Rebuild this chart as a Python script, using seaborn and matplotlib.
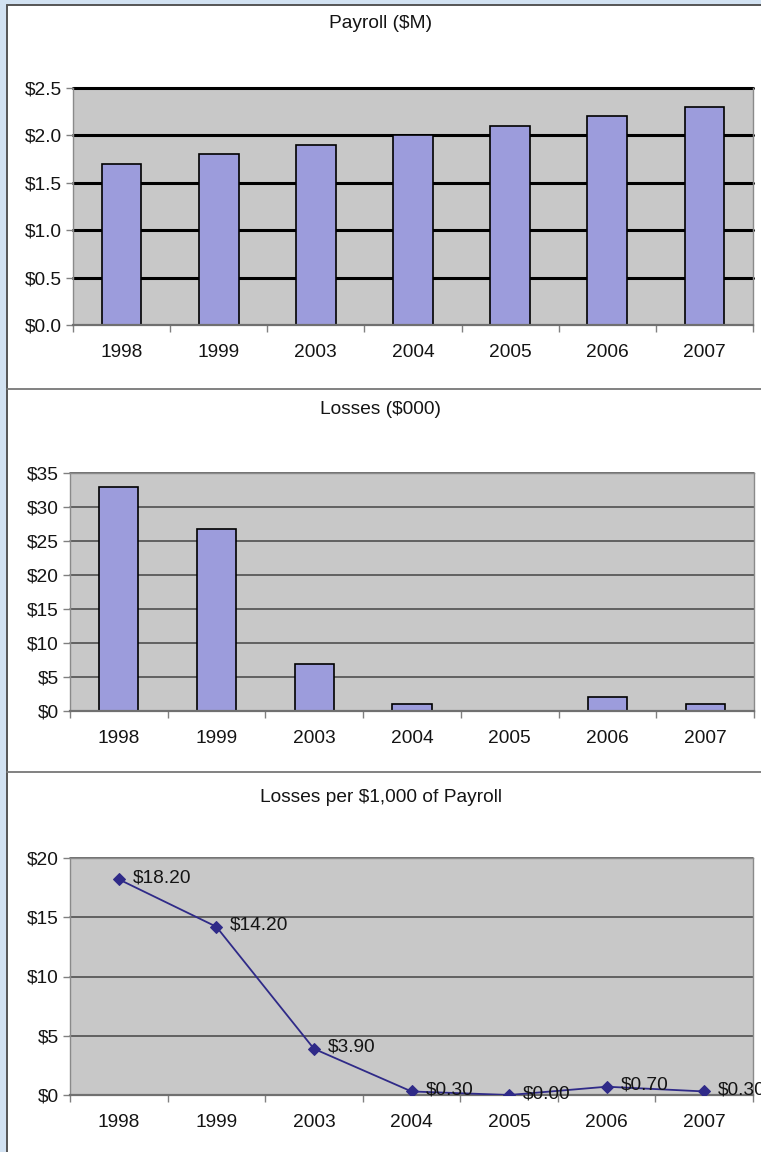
import matplotlib
matplotlib.use("Agg")
import matplotlib.pyplot as plt
import seaborn as sns
import pandas as pd
from matplotlib.patches import Rectangle
from matplotlib.lines import Line2D
from matplotlib.ticker import FuncFormatter, FixedLocator, NullFormatter

years = ["1998", "1999", "2003", "2004", "2005", "2006", "2007"]
payroll_m = [1.7, 1.8, 1.9, 2.0, 2.1, 2.2, 2.3]
losses_k = [33.0, 26.8, 6.9, 1.1, 0.0, 2.0, 1.0]
loss_rate = [18.20, 14.20, 3.90, 0.30, 0.00, 0.70, 0.30]
rate_labels = ["$18.20", "$14.20", "$3.90", "$0.30", "$0.00", "$0.70", "$0.30"]

titles = ["Payroll ($M)", "Losses ($000)", "Losses per $1,000 of Payroll"]

sns.set_theme(style="white")
plt.rcParams["font.family"] = ["Liberation Sans", "DejaVu Sans"]
plt.rcParams["text.color"] = "#141414"

W, H = 761, 1152
fig = plt.figure(figsize=(W / 100, H / 100), dpi=100)
fig.patch.set_facecolor("white")

PLOT_BG = "#c8c8c8"
BAR_COLOR = "#9c9cdc"
LINE_COLOR = "#2f2a88"
FS = 13.8


def fig_axes(left, top, right, bottom):
    return fig.add_axes([left / W, 1 - bottom / H, (right - left) / W, (bottom - top) / H])


def style_axes(ax, grid_color, grid_lw, fmt, yticks):
    ax.set_facecolor(PLOT_BG)
    ax.set_axisbelow(True)
    ax.set_xlim(-0.5, 6.5)
    ax.set_ylim(yticks[0], yticks[-1])
    ax.yaxis.set_major_locator(FixedLocator(yticks))
    ax.yaxis.set_major_formatter(FuncFormatter(fmt))
    for y in yticks[1:]:
        ax.axhline(y, color=grid_color, lw=grid_lw, zorder=0.5, clip_on=False)
    ax.set_xlabel("")
    ax.set_ylabel("")
    ax.xaxis.set_minor_locator(FixedLocator([i - 0.5 for i in range(8)]))
    ax.xaxis.set_minor_formatter(NullFormatter())
    ax.tick_params(axis="x", which="major", length=0, labelsize=FS, pad=14, labelcolor="#141414")
    ax.tick_params(axis="x", which="minor", length=5, width=1, color="#808080", bottom=True)
    ax.tick_params(axis="y", which="major", length=5, width=1, color="#808080", left=True,
                   labelsize=FS, pad=3, labelcolor="#141414")
    for s in ax.spines.values():
        s.set_visible(True)
        s.set_color("#8a8a8a")
        s.set_linewidth(1)
    ax.spines["top"].set_visible(False)
    ax.spines["bottom"].set_color("#707070")
    ax.spines["bottom"].set_linewidth(1.6)


# Panel 1: Payroll
ax1 = fig_axes(73, 88, 753, 325)
df1 = pd.DataFrame({"year": years, "payroll": payroll_m})
sns.barplot(data=df1, x="year", y="payroll", ax=ax1, color=BAR_COLOR, edgecolor="black",
            linewidth=1.2, width=0.41, saturation=1, zorder=2)
style_axes(ax1, "black", 2.2, lambda v, p: f"${v:.1f}", [0, 0.5, 1.0, 1.5, 2.0, 2.5])

# Panel 2: Losses
ax2 = fig_axes(70, 473, 754, 711)
df2 = pd.DataFrame({"year": years, "losses": losses_k})
sns.barplot(data=df2, x="year", y="losses", ax=ax2, color=BAR_COLOR, edgecolor="black",
            linewidth=1.2, width=0.40, saturation=1, zorder=2)
style_axes(ax2, "#454545", 1.1, lambda v, p: f"${v:.0f}", [0, 5, 10, 15, 20, 25, 30, 35])
ax2.spines["top"].set_visible(True)

# Panel 3: Losses per $1,000 of payroll
ax3 = fig_axes(70, 858, 753, 1095)
df3 = pd.DataFrame({"year": years, "rate": loss_rate})
sns.lineplot(data=df3, x="year", y="rate", ax=ax3, color=LINE_COLOR, lw=1.3, marker="D",
             markersize=6, markeredgecolor=LINE_COLOR, zorder=3, sort=False)
style_axes(ax3, "#454545", 1.1, lambda v, p: f"${v:.0f}", [0, 5, 10, 15, 20])
ax3.spines["top"].set_visible(True)
for i, (v, lab) in enumerate(zip(loss_rate, rate_labels)):
    ax3.annotate(lab, (i, v), xytext=(10, 1), textcoords="offset points", ha="left",
                 va="center", fontsize=FS, color="#141414", annotation_clip=False, zorder=4)

# Titles
for t, y in zip(titles, [24, 410, 797]):
    fig.text(0.5, 1 - y / H, t, ha="center", va="center", fontsize=FS, color="#141414")

# Frame: light blue strips on left and top with a dark inner edge
fig.add_artist(Rectangle((0, 0), 7 / W, 1, transform=fig.transFigure, facecolor="#d2e2f2",
                         edgecolor="none", zorder=10))
fig.add_artist(Rectangle((0, 1 - 5 / H), 1, 5 / H, transform=fig.transFigure, facecolor="#d2e2f2",
                         edgecolor="none", zorder=10))
fig.add_artist(Line2D([7 / W, 7 / W], [0, 1 - 5 / H], transform=fig.transFigure, color="#555555",
                      lw=1.4, zorder=11))
fig.add_artist(Line2D([7 / W, 1], [1 - 5 / H, 1 - 5 / H], transform=fig.transFigure, color="#555555",
                      lw=1.4, zorder=11))
# Separators between panels
for y in [389, 772]:
    fig.add_artist(Line2D([7 / W, 1], [1 - y / H, 1 - y / H], transform=fig.transFigure,
                          color="#777777", lw=1.3, zorder=11))

fig.savefig("out.png", dpi=100, facecolor=fig.get_facecolor())
